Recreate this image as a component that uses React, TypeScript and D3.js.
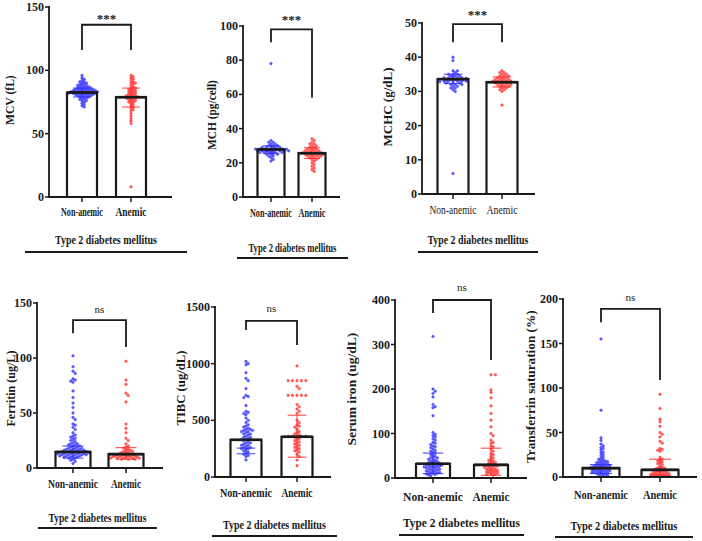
import React from "react";
import * as d3 from "d3";

// ---------- DATA ----------
const groups = ["Non-anemic", "Anemic"];
const cohortLabel = "Type 2 diabetes mellitus";
const yLabels = ["MCV (fL)", "MCH (pg/cell)", "MCHC (g/dL)", "Ferritin  (ug/L)", "TIBC (ug/dL)", "Serum iron (ug/dL)", "Transferrin saturation  (%)"];
const yMax = [150, 100, 50, 150, 1500, 400, 200];
const tickStep = [50, 20, 10, 50, 500, 100, 50];
const sigLabels = ["***", "***", "***", "ns", "ns", "ns", "ns"];
const means = [[82.5, 78.8], [27.8, 25.6], [33.6, 32.7], [14.6, 12.6], [328, 355], [32, 29.5], [10, 8]];
const errBars = [
  [[79, 86], [71, 86]],
  [[25.5, 30], [22.5, 28.8]],
  [[32.3, 35], [31.3, 34.2]],
  [[9, 20], [8, 18.5]],
  [[205, 255], [175, 545]],
  [[10, 56], [6, 67]],
  [[4, 14], [2, 20]],
];
// bracket: [top, left leg end, right leg end]
const brackets = [[136, 116, 116], [98, 90.5, 58], [49.7, 44.4, 44.4], [134.5, 122.5, 110], [1377, 1297, 1165], [400, 371, 265], [189, 174, 109]];

const mcvNon = [96, 94, 93, 92, 91, 91, 90, 90, 89, 89, 88, 88, 88, 87, 87, 87, 86, 86, 86, 86, 85, 85, 85, 85, 85, 84, 84, 84, 84, 84, 84, 83, 83, 83, 83, 83, 83, 83, 82, 82, 82, 82, 82, 82, 82, 81, 81, 81, 81, 81, 80, 80, 80, 80, 79, 79, 79, 78, 78, 77, 77, 76, 76, 75, 74, 73, 72, 71];
const mcvAn = [96, 95, 94, 93, 92, 91, 90, 90, 89, 88, 87, 86, 86, 85, 85, 84, 84, 83, 83, 82, 82, 81, 81, 80, 80, 80, 79, 79, 79, 78, 78, 78, 77, 77, 76, 76, 75, 75, 74, 73, 72, 71, 70, 69, 68, 66, 64, 62, 60, 58, 8];
const mchNon = [78, 33, 32, 32, 31, 31, 30, 30, 30, 29.5, 29, 29, 29, 29, 28.5, 28, 28, 28, 28, 28, 28, 28, 27.5, 27, 27, 27, 27, 27, 27, 27, 27, 26.5, 26, 26, 26, 26, 26, 25.5, 25, 25, 25, 24, 24, 23, 22, 21];
const mchAn = [34, 33, 32, 31, 31, 30, 30, 29, 29, 28, 28, 28, 27, 27, 27, 27, 26, 26, 26, 26, 26, 25, 25, 25, 25, 25, 24, 24, 24, 24, 23, 23, 23, 22, 22, 21, 20, 19, 18, 17, 16, 15];
const mchcNon = [40, 39, 36, 36, 35.5, 35, 35, 35, 34.5, 34.5, 34.5, 34, 34, 34, 34, 34, 33.8, 33.5, 33.5, 33.5, 33.5, 33.5, 33.2, 33, 33, 33, 33, 33, 32.8, 32.5, 32.5, 32.5, 32, 32, 32, 31.5, 31.5, 31, 31, 30.5, 30, 6];
const mchcAn = [36, 35.5, 35.5, 35, 35, 34.5, 34.5, 34.5, 34, 34, 34, 33.5, 33.5, 33.5, 33.5, 33, 33, 33, 33, 33, 32.5, 32.5, 32.5, 32.5, 32, 32, 32, 32, 31.5, 31.5, 31.5, 31, 31, 30.5, 30.5, 30, 26];
const ferNon = [102, 92, 88, 86, 81, 80, 79, 78, 70, 64, 59, 55, 50, 46, 44, 40, 39, 37, 35, 32, 30, 29, 28, 27, 26, 25, 24, 23, 22, 22, 21, 21, 20, 20, 19, 19, 18, 18, 18, 17, 17, 17, 16, 16, 16, 16, 15, 15, 15, 15, 15, 14, 14, 14, 14, 14, 13, 13, 13, 13, 13, 12, 12, 12, 12, 12, 11, 11, 11, 11, 10, 10, 10, 9, 9, 8, 7, 6, 4];
const ferAn = [97, 80, 76, 68, 66, 60, 40, 36, 32, 27, 25, 22, 20, 19, 18, 17, 16, 16, 15, 15, 14, 14, 13, 13, 13, 12, 12, 12, 11, 11, 11, 11, 10, 10, 10, 10, 10, 9, 9, 9, 9, 9, 8, 8, 8];
const tibcNon = [1020, 1000, 990, 920, 870, 850, 780, 720, 710, 700, 630, 580, 570, 560, 550, 520, 500, 480, 460, 450, 440, 430, 420, 420, 410, 410, 400, 400, 390, 380, 380, 370, 360, 350, 350, 340, 330, 330, 320, 310, 300, 300, 290, 280, 280, 270, 260, 260, 250, 250, 240, 230, 220, 210, 200, 190, 180, 150];
const tibcAn = [980, 850, 850, 850, 850, 850, 800, 780, 720, 720, 720, 720, 720, 640, 620, 600, 580, 560, 500, 480, 460, 450, 440, 420, 400, 390, 380, 370, 360, 360, 360, 360, 360, 350, 340, 330, 320, 310, 300, 290, 280, 270, 260, 250, 240, 230, 220, 200, 180, 150, 100];
const ironNon = [318, 200, 195, 190, 182, 165, 160, 158, 140, 102, 98, 95, 92, 88, 85, 80, 78, 75, 72, 70, 68, 65, 62, 60, 58, 55, 53, 50, 48, 46, 45, 43, 42, 40, 38, 37, 36, 35, 34, 33, 32, 31, 30, 30, 29, 28, 28, 27, 26, 25, 25, 24, 23, 22, 21, 20, 19, 18, 17, 16, 15, 14, 13, 12, 11, 10, 9, 8, 7, 5];
const ironAn = [232, 232, 198, 192, 180, 162, 145, 130, 115, 100, 95, 85, 80, 78, 72, 70, 65, 60, 55, 52, 48, 45, 42, 40, 38, 36, 35, 33, 32, 30, 29, 28, 27, 26, 25, 24, 22, 21, 20, 19, 18, 17, 16, 15, 14, 13, 12, 11, 10, 9, 8, 6];
const tsatNon = [155, 75, 44, 41, 37, 35, 33, 32, 30, 28, 27, 25, 24, 22, 21, 20, 19, 18, 18, 17, 17, 16, 16, 15, 15, 14, 14, 13, 13, 13, 12, 12, 12, 11, 11, 11, 10, 10, 10, 10, 9, 9, 9, 8, 8, 8, 7, 7, 7, 6, 6, 6, 5, 5, 5, 4, 4, 3, 3, 2, 2, 1];
const tsatAn = [93, 77, 65, 62, 57, 50, 48, 45, 40, 38, 32, 31, 30, 29, 22, 20, 19, 18, 17, 16, 15, 14, 12, 11, 10, 10, 9, 9, 8, 8, 7, 7, 6, 6, 5, 5, 5, 4, 4, 4, 3, 3, 3, 2, 2, 2, 1, 1, 1];

const panelValues = [
  [mcvNon, mcvAn],
  [mchNon, mchAn],
  [mchcNon, mchcAn],
  [ferNon, ferAn],
  [tibcNon, tibcAn],
  [ironNon, ironAn],
  [tsatNon, tsatAn],
];

// ---------- LAYOUT ----------
type Layout = {
  ax: number; yBot: number; yTop: number; axEnd: number; c: [number, number]; bw: number;
  lblY: number; naW: number; anW: number; bold: boolean;
  tY: number; tW: number; lineY: number; lineX: [number, number];
  sigY: number; yl: [number, number, number]; // x, center y, length
};
const layouts: Layout[] = [
  { ax: 49, yBot: 197, yTop: 7, axEnd: 172, c: [82, 131], bw: 30, lblY: 216, naW: 42, anW: 31, bold: true, tY: 244, tW: 102, lineY: 252, lineX: [25, 187], sigY: 23, yl: [10, 100, 50] },
  { ax: 243, yBot: 197, yTop: 26, axEnd: 340, c: [271, 312], bw: 27, lblY: 217, naW: 42, anW: 27, bold: true, tY: 252, tW: 88, lineY: 258, lineX: [237, 348], sigY: 24, yl: [212, 115, 70] },
  { ax: 422, yBot: 194, yTop: 23, axEnd: 535, c: [453, 502], bw: 31, lblY: 214, naW: 47, anW: 31, bold: false, tY: 244, tW: 101, lineY: 252, lineX: [418, 538], sigY: 19, yl: [388, 107, 79] },
  { ax: 37, yBot: 468, yTop: 303, axEnd: 163, c: [73, 126], bw: 35, lblY: 488, naW: 50, anW: 30, bold: true, tY: 522, tW: 98, lineY: 528, lineX: [38, 157], sigY: 313, yl: [11, 387, 79] },
  { ax: 215, yBot: 477, yTop: 307, axEnd: 331, c: [246, 297], bw: 31, lblY: 497, naW: 52, anW: 31, bold: true, tY: 529, tW: 103, lineY: 536, lineX: [212, 337], sigY: 312, yl: [181, 388, 75] },
  { ax: 395, yBot: 478, yTop: 300, axEnd: 527, c: [433, 491], bw: 34, lblY: 501, naW: 60, anW: 37, bold: true, tY: 527, tW: 117, lineY: 535, lineX: [399, 524], sigY: 291, yl: [352, 389, 113] },
  { ax: 563, yBot: 477, yTop: 299, axEnd: 697, c: [601, 660], bw: 37, lblY: 499, naW: 54, anW: 34, bold: true, tY: 530, tW: 107, lineY: 537, lineX: [555, 693], sigY: 301, yl: [531, 385, 156] },
];

const colors = ["#2d2dff", "#ff2d2d"];
const ink = "#1a1a1a";
const serif = "'Liberation Serif', 'Times New Roman', serif";

let ctx: CanvasRenderingContext2D | null = null;
function measure(text: string, size: number, bold: boolean) {
  if (!ctx && typeof document !== "undefined") ctx = document.createElement("canvas").getContext("2d");
  if (!ctx) return text.length * size * 0.5;
  ctx.font = `${bold ? "bold " : ""}${size}px 'Liberation Serif'`;
  return ctx.measureText(text).width;
}

// text fitted to a target width by horizontal scaling; (x,y) = left baseline
function FitText({ text, x, y, w, size, bold, rotate }: { text: string; x: number; y: number; w: number; size: number; bold: boolean; rotate?: boolean }) {
  const nat = measure(text, size, bold);
  const sx = w / nat;
  const tr = rotate ? `translate(${x},${y}) rotate(-90) scale(${sx},1)` : `translate(${x},${y}) scale(${sx},1)`;
  return (
    <text transform={tr} fontFamily={serif} fontWeight={bold ? "bold" : "normal"} fontSize={size} fill={ink}>{text}</text>
  );
}

function swarm(vals: number[], y: (v: number) => number, cx: number, r: number, maxHalf: number) {
  const pts = vals.map((v) => ({ v, py: y(v), px: cx }));
  const order = pts.slice().sort((a, b) => b.v - a.v);
  const placed: { px: number; py: number }[] = [];
  const step = r * 1.7;
  const minD = r * 1.8;
  for (const p of order) {
    let chosen = cx;
    for (let k = 0; k < 60; k++) {
      const off = k === 0 ? 0 : Math.ceil(k / 2) * step * (k % 2 ? 1 : -1);
      const x = cx + off;
      const hit = placed.some((q) => (q.px - x) ** 2 + (q.py - p.py) ** 2 < minD * minD);
      if (!hit) { chosen = x; break; }
      if (Math.abs(off) > maxHalf) { chosen = cx + ((k % 7) - 3) * step; break; }
    }
    p.px = chosen;
    placed.push({ px: chosen, py: p.py });
  }
  return pts;
}

function Panel({ idx }: { idx: number }) {
  const L = layouts[idx];
  const y = d3.scaleLinear().domain([0, yMax[idx]]).range([L.yBot, L.yTop]);
  const x = d3.scalePoint<string>().domain(groups).range(L.c);
  const ticks = d3.range(0, yMax[idx] + tickStep[idx] / 2, tickStep[idx]);
  const br = brackets[idx];
  const sigX = ((x(groups[0]) as number) + (x(groups[1]) as number)) / 2;
  return (
    <g>
      {groups.map((g, gi) => {
        const cx = x(g) as number;
        return <rect key={"f" + gi} x={cx - L.bw / 2} y={y(means[idx][gi])} width={L.bw} height={L.yBot - y(means[idx][gi])} fill="#fff" />;
      })}
      {groups.map((g, gi) => {
        const cx = x(g) as number;
        const pts = swarm(panelValues[idx][gi], y, cx, 1.3, L.bw / 2 + 3);
        return (
          <g key={"d" + gi}>
            {pts.map((p, i) => (
              <circle key={i} cx={p.px} cy={p.py} r={1.3} fill={colors[gi]} fillOpacity={0.75} stroke={colors[gi]} strokeWidth={0.4} />
            ))}
          </g>
        );
      })}
      {groups.map((g, gi) => {
        const cx = x(g) as number;
        const [lo, hi] = errBars[idx][gi];
        const cw = L.bw * 0.3;
        return (
          <g key={"e" + gi} stroke={colors[gi]} strokeWidth={1.1} opacity={0.85}>
            <line x1={cx} x2={cx} y1={y(lo)} y2={y(hi)} />
            <line x1={cx - cw} x2={cx + cw} y1={y(lo)} y2={y(lo)} />
            <line x1={cx - cw} x2={cx + cw} y1={y(hi)} y2={y(hi)} />
          </g>
        );
      })}
      {groups.map((g, gi) => {
        const cx = x(g) as number;
        const top = y(means[idx][gi]);
        return (
          <g key={"o" + gi}>
            <path d={`M${cx - L.bw / 2},${L.yBot} V${top} H${cx + L.bw / 2} V${L.yBot}`} fill="none" stroke={ink} strokeWidth={2.2} />
            <line x1={cx - L.bw / 2} x2={cx + L.bw / 2} y1={top} y2={top} stroke={ink} strokeWidth={2.6} />
          </g>
        );
      })}
      <line x1={L.ax} x2={L.ax} y1={L.yTop - 1} y2={L.yBot + 1} stroke={ink} strokeWidth={1.8} />
      <line x1={L.ax - 1} x2={L.axEnd} y1={L.yBot} y2={L.yBot} stroke={ink} strokeWidth={1.8} />
      {ticks.map((t) => (
        <g key={t}>
          <line x1={L.ax - 4} x2={L.ax} y1={y(t)} y2={y(t)} stroke={ink} strokeWidth={1.5} />
          <text x={L.ax - 5} y={y(t) + 4} textAnchor="end" fontFamily={serif} fontWeight="bold" fontSize={12} fill={ink}>{t}</text>
        </g>
      ))}
      {groups.map((g, gi) => {
        const w = gi === 0 ? L.naW : L.anW;
        return (
          <g key={"xt" + gi}>
            <line x1={x(g) as number} x2={x(g) as number} y1={L.yBot} y2={L.yBot + 5} stroke={ink} strokeWidth={1.5} />
            <FitText text={g} x={(x(g) as number) - w / 2} y={L.lblY} w={w} size={13} bold={L.bold} />
          </g>
        );
      })}
      <FitText text={yLabels[idx]} x={L.yl[0] + 4} y={L.yl[1] + L.yl[2] / 2} w={L.yl[2]} size={12} bold={true} rotate />
      <path d={`M${x(groups[0])},${y(br[1])} V${y(br[0])} H${x(groups[1])} V${y(br[2])}`} fill="none" stroke={ink} strokeWidth={1.8} />
      <text x={sigX} y={L.sigY} textAnchor="middle" fontFamily={serif} fontWeight={sigLabels[idx] === "ns" ? "normal" : "bold"} fontSize={sigLabels[idx] === "ns" ? 11 : 13} fill={ink}>{sigLabels[idx]}</text>
      <FitText text={cohortLabel} x={(L.lineX[0] + L.lineX[1]) / 2 - L.tW / 2} y={L.tY} w={L.tW} size={13} bold={true} />
      <line x1={L.lineX[0]} x2={L.lineX[1]} y1={L.lineY} y2={L.lineY} stroke={ink} strokeWidth={1.8} />
    </g>
  );
}

export default function App() {
  return (
    <svg width={702} height={541} style={{ position: "absolute", left: 0, top: 0, background: "#fff" }}>
      <rect width={702} height={541} fill="#fff" />
      {layouts.map((_, i) => <Panel key={i} idx={i} />)}
    </svg>
  );
}
